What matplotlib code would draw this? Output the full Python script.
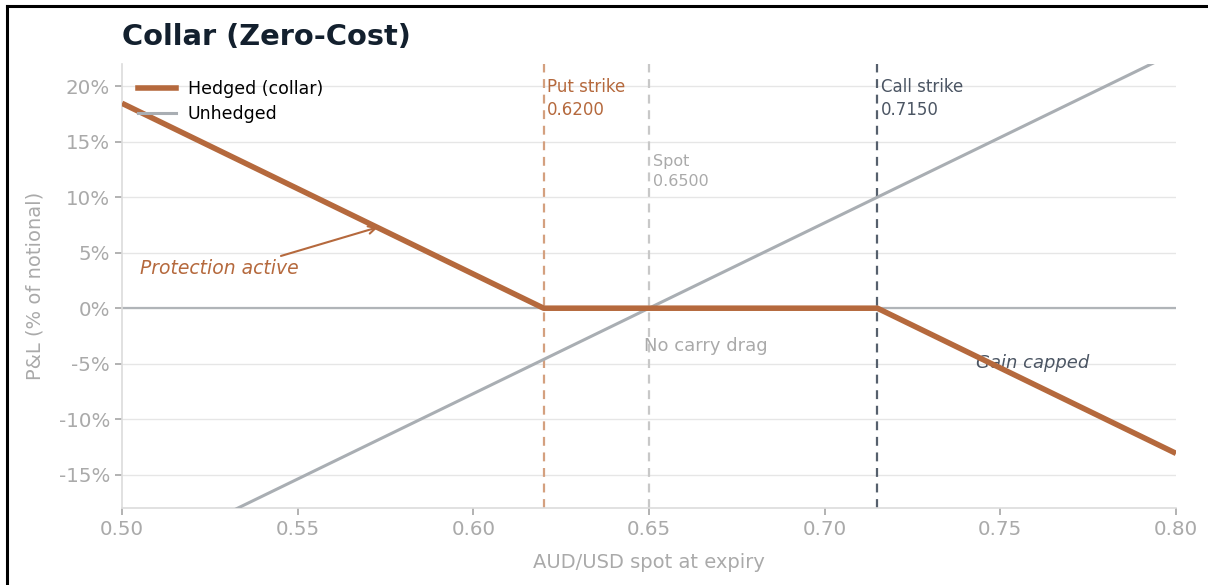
import numpy as np
import matplotlib
matplotlib.use("Agg")
import matplotlib.pyplot as plt
from matplotlib.lines import Line2D
from matplotlib.ticker import FuncFormatter

# Payoff data (P&L in % of notional at expiry)
spot_grid = [0.50, 0.62, 0.65, 0.715, 0.80]
hedged_pnl = [18.46, 0.0, 0.0, 0.0, -13.08]
unhedged_pnl = [-23.08, -4.62, 0.0, 10.0, 23.08]

put_strike = 0.6200
spot_now = 0.6500
call_strike = 0.7150

x_ticks = [0.50, 0.55, 0.60, 0.65, 0.70, 0.75, 0.80]
y_ticks = [-15, -10, -5, 0, 5, 10, 15, 20]

COPPER = "#b5693d"
GREY_LINE = "#a9aeb3"
SLATE = "#4b5563"
TICK_GREY = "#aaaaaa"

plt.rcParams["font.family"] = ["DejaVu Sans"]

fig = plt.figure(figsize=(12.08, 5.85), dpi=100)
ax = fig.add_axes([122 / 1208, 1 - 508 / 585, (1176 - 122) / 1208, (508 - 64) / 585])

ax.set_xlim(0.50, 0.80)
ax.set_ylim(-18, 22)

# grid and zero line
ax.set_yticks(y_ticks)
ax.set_xticks(x_ticks)
ax.grid(axis="y", color="#e6e6e6", linewidth=1.0)
ax.grid(axis="x", visible=False)
ax.set_axisbelow(True)
ax.axhline(0, color="#b0b4b8", linewidth=1.6, zorder=1)

# strike / spot markers
ax.axvline(put_strike, color="#d4a07f", linestyle=(0, (4, 3)), linewidth=1.6, zorder=2)
ax.axvline(spot_now, color="#c8c8c8", linestyle=(0, (4, 3)), linewidth=1.6, zorder=2)
ax.axvline(call_strike, color="#56606d", linestyle=(0, (4, 3)), linewidth=1.6, zorder=2)

# payoff lines
ax.plot(spot_grid, unhedged_pnl, color=GREY_LINE, linewidth=2.2, zorder=3)
ax.plot(spot_grid, hedged_pnl, color=COPPER, linewidth=4.0, zorder=4,
        solid_capstyle="butt")

# labels on the marker lines
ax.text(put_strike + 0.001, 18.9, f"Put strike\n{put_strike:.4f}", color=COPPER,
        fontsize=12, va="center", ha="left", linespacing=1.3)
ax.text(spot_now + 0.001, 12.3, f"Spot\n{spot_now:.4f}", color=TICK_GREY,
        fontsize=11.5, va="center", ha="left", linespacing=1.4)
ax.text(call_strike + 0.001, 18.9, f"Call strike\n{call_strike:.4f}", color=SLATE,
        fontsize=12, va="center", ha="left", linespacing=1.3)

# annotations
ax.annotate("Protection active", xy=(0.5729, 7.3), xytext=(0.5051, 3.6),
            color=COPPER, fontsize=13.5, style="italic", va="center", ha="left",
            arrowprops=dict(arrowstyle="->", color=COPPER, lw=1.5,
                            shrinkA=0, shrinkB=0,
                            relpos=(0.83, 1.0)))
ax.text(0.6485, -3.4, "No carry drag", color=TICK_GREY, fontsize=13,
        va="center", ha="left")
ax.text(0.743, -4.95, "Gain capped", color=SLATE, fontsize=13, style="italic",
        va="center", ha="left")

# axes styling
for side in ("top", "right"):
    ax.spines[side].set_visible(False)
for side in ("left", "bottom"):
    ax.spines[side].set_color("#dcdcdc")
    ax.spines[side].set_linewidth(1.2)
ax.tick_params(colors=TICK_GREY, labelsize=14.3, length=5, width=1.2)
ax.tick_params(axis="both", color="#a6a6a6")
ax.yaxis.set_major_formatter(FuncFormatter(lambda v, _: f"{v:.0f}%"))
ax.xaxis.set_major_formatter(FuncFormatter(lambda v, _: f"{v:.2f}"))
ax.set_xlabel("AUD/USD spot at expiry", color=TICK_GREY, fontsize=14, labelpad=10)
ax.set_ylabel("P&L (% of notional)", color=TICK_GREY, fontsize=14, labelpad=10)

fig.text(122 / 1208, 1 - 37 / 585, "Collar (Zero-Cost)", fontsize=20.8,
         fontweight="bold", color="#13202e", ha="left", va="center")

# legend
handles = [Line2D([], [], color=COPPER, linewidth=4.0),
           Line2D([], [], color=GREY_LINE, linewidth=2.2)]
ax.legend(handles, ["Hedged (collar)", "Unhedged"], loc="upper left",
          bbox_to_anchor=(0.0, 1.0), frameon=False, fontsize=12.5,
          handlelength=2.2, handletextpad=0.7, labelspacing=0.45,
          borderaxespad=0.5)

# frame edges
fig.add_artist(Line2D([7 / 1208, 7 / 1208], [0, 1 - 6 / 585], color="black",
                      linewidth=2.2, transform=fig.transFigure))
fig.add_artist(Line2D([7 / 1208, 1], [1 - 6 / 585, 1 - 6 / 585], color="black",
                      linewidth=2.2, transform=fig.transFigure))

fig.savefig("out.png", dpi=100, facecolor="white")
